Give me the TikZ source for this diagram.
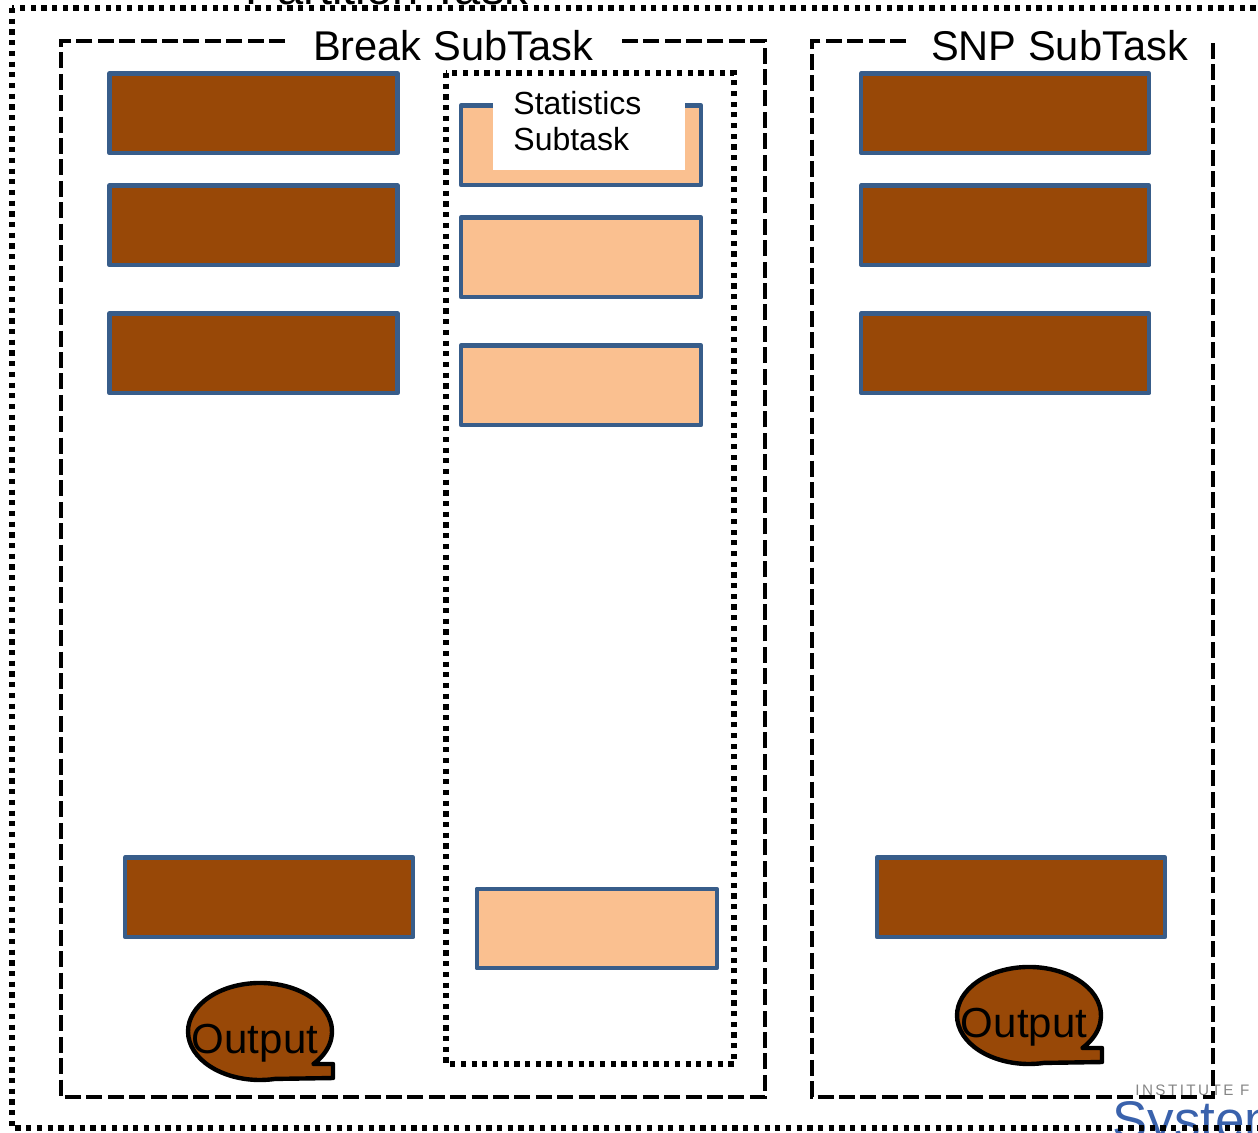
\documentclass[tikz,border=0pt]{standalone}
\usepackage{fontspec}
\setmainfont{Liberation Sans}
\newfontfamily\logofont[LetterSpace=16]{Liberation Sans}
\newfontfamily\logobig{Liberation Sans}

\definecolor{taskbrown}{HTML}{984807}
\definecolor{taskpeach}{HTML}{FAC090}
\definecolor{taskline}{HTML}{385D8A}
\definecolor{logogrey}{HTML}{858585}
\definecolor{logoblue}{HTML}{3A62AC}

\tikzset{
  dotline/.style={line width=2.6pt, dash pattern=on 2.6pt off 2.75pt},
  dashline/.style={line width=2.1pt, dash pattern=on 8pt off 2.7pt},
  brownbox/.style={draw=taskline, fill=taskbrown, line width=2.2pt, line join=round,
    minimum width=144pt, minimum height=39.75pt, inner sep=0pt},
  peachbox/.style={draw=taskline, fill=taskpeach, line width=2.2pt, line join=round,
    minimum width=120pt, minimum height=39.75pt, inner sep=0pt},
  grouptitle/.style={font=\fontsize{20.8}{24}\selectfont, inner sep=0pt, anchor=base},
  bubble/.style={draw=black, fill=taskbrown, line width=2.2pt, line join=round},
  bubble text/.style={font=\fontsize{21}{24}\selectfont, inner sep=0pt, anchor=base},
  output bubble/.pic={
    \draw[bubble] (53.5,32.5) -- (73,32.5) -- (73,46.5) -- (15,47.4)
      arc[start angle=78, end angle=402, x radius=72, y radius=48.5] -- cycle;
    \node[bubble text] (-label) at (-5,21.5) {Output};
  }
}

\begin{document}
\begin{tikzpicture}[x=0.5pt, y=-0.5pt]
\useasboundingbox (0,0) rectangle (1258,1132);

% institute logo in the lower right corner
\node[font=\logofont\fontsize{7.6}{9}\selectfont, text=logogrey, anchor=base west, inner sep=0pt]
  (logotop) at (1135,1095) {INSTITUTE F};
\node[font=\logobig\fontsize{26.5}{30}\selectfont, text=logoblue, anchor=base west, inner sep=0pt]
  (logoname) at (1112,1138) {System};

% outer partition frame and its title
\draw[dotline] (12,8) rectangle (1290,1128);
\node[font=\fontsize{23.5}{28}\selectfont, anchor=base, inner sep=0pt] (parttitle) at (387,4) {Partition Task};

% Break subtask frame
\draw[dashline] (285,41) -- (61,41) -- (61,1097) -- (765,1097) -- (765,41) -- (622,41);
\node[grouptitle] (breaktitle) at (453,60) {Break SubTask};

% SNP subtask frame
\draw[dashline] (906,41) -- (812,41) -- (812,1097) -- (1213,1097) -- (1213,41);
\node[grouptitle] (snptitle) at (1059.5,60) {SNP SubTask};

% statistics subtask frame
\draw[dotline] (446,73) rectangle (734,1064);

% break subtask steps
\node[brownbox] (b1) at (253.5,113.25) {};
\node[brownbox] (b2) at (253.5,225.25) {};
\node[brownbox] (b3) at (253.5,353.25) {};
\node[brownbox] (b4) at (269.25,897.25) {};

% statistics subtask steps
\node[peachbox] (s1) at (581,145.25) {};
\node[peachbox] (s2) at (581,257.25) {};
\node[peachbox] (s3) at (581,385.25) {};
\node[peachbox] (s4) at (596.75,928.5) {};

% SNP subtask steps
\node[brownbox] (n1) at (1005.25,113.25) {};
\node[brownbox] (n2) at (1005.25,225.25) {};
\node[brownbox] (n3) at (1005.25,353.25) {};
\node[brownbox] (n4) at (1021,897.25) {};

% statistics label over the first step
\node[fill=white, inner sep=0pt, minimum width=96pt, minimum height=41.5pt] (statbox) at (589,128.5) {};
\node[font=\fontsize{16}{18}\selectfont, align=left, anchor=north west, inner sep=0pt]
  (stattext) at (513,91) {Statistics\\Subtask};

% outputs
\pic (outL) at (260,1031.5) {output bubble};
\pic (outR) at (1029,1015.5) {output bubble};
\end{tikzpicture}
\end{document}
